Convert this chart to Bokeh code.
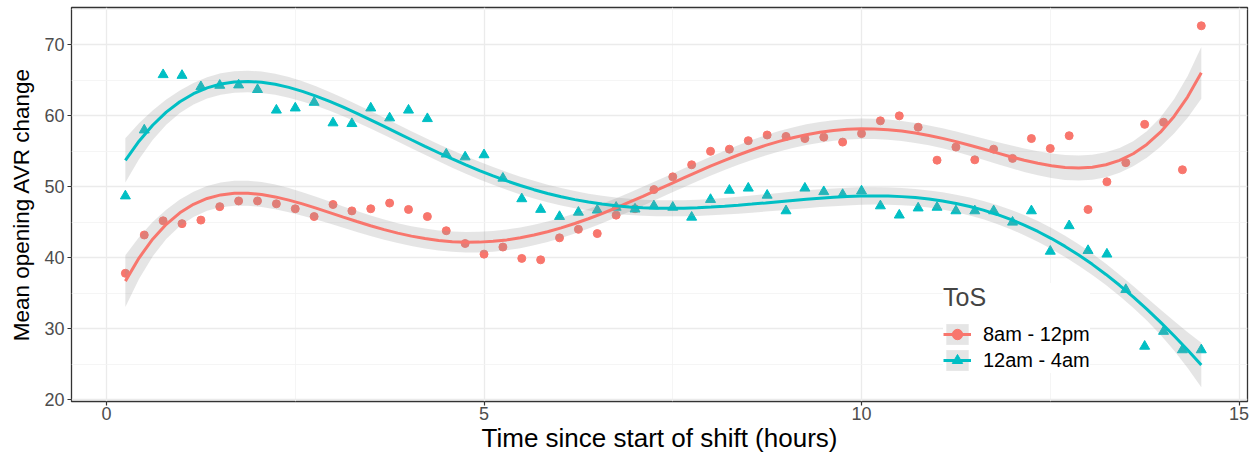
import numpy as np
from bokeh.plotting import figure
from bokeh.models import ColumnDataSource, FixedTicker, Legend, LegendItem, Range1d
from bokeh.embed import file_html
from bokeh.resources import INLINE

# ---- data ----
hours = [0.25, 0.5, 0.75, 1.0, 1.25, 1.5, 1.75, 2.0, 2.25, 2.5, 2.75, 3.0,
         3.25, 3.5, 3.75, 4.0, 4.25, 4.5, 4.75, 5.0, 5.25, 5.5, 5.75, 6.0,
         6.25, 6.5, 6.75, 7.0, 7.25, 7.5, 7.75, 8.0, 8.25, 8.5, 8.75, 9.0,
         9.25, 9.5, 9.75, 10.0, 10.25, 10.5, 10.75, 11.0, 11.25, 11.5, 11.75,
         12.0, 12.25, 12.5, 12.75, 13.0, 13.25, 13.5, 13.75, 14.0, 14.25, 14.5]

avr_8am_12pm = [37.8, 43.2, 45.2, 44.8, 45.3, 47.2, 48.0, 48.0, 47.6, 46.9, 45.8, 47.5,
                46.6, 46.9, 47.7, 46.8, 45.8, 43.8, 42.0, 40.5, 41.5, 39.9, 39.7, 42.8,
                44.0, 43.4, 46.0, 46.9, 49.6, 51.4, 53.1, 55.0, 55.3, 56.5, 57.3, 57.1,
                56.8, 57.0, 56.3, 57.5, 59.3, 60.0, 58.4, 53.75, 55.6, 53.8, 55.3,
                54.0, 56.8, 55.4, 57.2, 46.8, 50.7, 53.4, 58.8, 59.1, 52.4, 72.7]

avr_12am_4am = [48.7, 58.0, 65.8, 65.7, 64.1, 64.3, 64.35, 63.7, 60.8, 61.1, 61.9, 59.0,
                58.9, 61.1, 59.7, 60.8, 59.6, 54.6, 54.2, 54.5, 51.2, 48.3, 46.8, 45.8,
                46.4, 46.7, 47.1, 46.85, 47.3, 47.1, 45.7, 48.2, 49.5, 49.8, 48.8, 46.6,
                49.8, 49.3, 48.9, 49.4, 47.3, 46.0, 47.0, 47.1, 46.6, 46.6, 46.6,
                45.0, 46.6, 40.9, 44.5, 41.0, 40.5, 35.5, 27.5, 29.6, 27.0, 27.0]

group_labels = ["8am - 12pm", "12am - 4am"]
group_colors = ["#F8766D", "#00BFC4"]
group_markers = ["circle", "triangle"]
x_ticks = [0, 5, 10, 15]
y_ticks = [20, 30, 40, 50, 60, 70]


def poly_smooth(x, y, degree=5, n=80, tcrit=2.0066):
    """Least-squares polynomial smoother with 95% confidence band (like geom_smooth lm)."""
    x = np.asarray(x, float)
    y = np.asarray(y, float)
    mu, sd = x.mean(), x.std()
    X = np.vander((x - mu) / sd, degree + 1)
    beta, *_ = np.linalg.lstsq(X, y, rcond=None)
    resid = y - X @ beta
    sigma2 = resid @ resid / (len(x) - degree - 1)
    cov = sigma2 * np.linalg.inv(X.T @ X)
    xg = np.linspace(x.min(), x.max(), n)
    Xg = np.vander((xg - mu) / sd, degree + 1)
    fit = Xg @ beta
    se = np.sqrt(np.einsum("ij,jk,ik->i", Xg, cov, Xg))
    return xg, fit, fit - tcrit * se, fit + tcrit * se


p = figure(width=1252, height=455, output_backend="svg", toolbar_location=None,
           x_range=Range1d(-0.4636, 15.112), y_range=Range1d(19.72, 75.28),
           min_border_left=71, min_border_right=5, min_border_top=7, min_border_bottom=48)

p.background_fill_color = "white"
p.border_fill_color = "white"
p.outline_line_color = "#333333"
p.outline_line_width = 1.3

# grid
p.xaxis.ticker = FixedTicker(ticks=x_ticks, minor_ticks=[2.5, 7.5, 12.5])
p.yaxis.ticker = FixedTicker(ticks=y_ticks, minor_ticks=[25, 35, 45, 55, 65, 75])
for g in (p.xgrid, p.ygrid):
    g.grid_line_color = "#EBEBEB"
    g.grid_line_width = 1.3
    g.minor_grid_line_color = "#F2F2F2"
    g.minor_grid_line_width = 0.8

for ax in (p.xaxis, p.yaxis):
    ax.axis_line_color = None
    ax.major_tick_line_color = "#333333"
    ax.major_tick_line_width = 1.2
    ax.major_tick_out = 4
    ax.major_tick_in = 0
    ax.minor_tick_line_color = None
    ax.major_label_text_font = "Liberation Sans"
    ax.major_label_text_font_size = "18px"
    ax.major_label_text_color = "#4D4D4D"
    ax.axis_label_text_font = "Liberation Sans"
    ax.axis_label_text_font_style = "normal"
    ax.axis_label_text_color = "black"
    ax.major_label_standoff = 2

p.xaxis.axis_label = "Time since start of shift (hours)"
p.xaxis.axis_label_text_font_size = "26px"
p.xaxis.axis_label_standoff = 0
p.xaxis.major_label_standoff = 1
p.yaxis.axis_label = "Mean opening AVR change"
p.yaxis.axis_label_text_font_size = "22.5px"
p.yaxis.axis_label_standoff = 7
p.yaxis.major_label_standoff = 3

series = [avr_8am_12pm, avr_12am_4am]
items = []
point_rs = []
smooth = []
for vals, col, mk in zip(series, group_colors, group_markers):
    src = ColumnDataSource(dict(x=hours, y=vals))
    size = 8 if mk == "circle" else 10
    point_rs.append(p.scatter("x", "y", source=src, marker=mk, size=size,
                              fill_color=col, line_color=col))
for vals, col in zip(series, group_colors):
    xg, fit, lo, hi = poly_smooth(hours, vals)
    s = ColumnDataSource(dict(x=xg, fit=fit, lo=lo, hi=hi))
    band = p.varea(x="x", y1="lo", y2="hi", source=s, fill_color="#999999", fill_alpha=0.25)
    smooth.append((s, band))
line_rs = []
for (s, band), col in zip(smooth, group_colors):
    line_rs.append(p.line("x", "fit", source=s, line_color=col, line_width=3))

for lab, (s, band), ln, pt in zip(group_labels, smooth, line_rs, point_rs):
    items.append(LegendItem(label=lab, renderers=[band, ln, pt]))

legend = Legend(items=items, location=(872, 28), title="ToS",
                title_text_font="Liberation Sans", title_text_font_size="25px",
                title_text_font_style="normal", title_standoff=9,
                label_text_font="Liberation Sans", label_text_font_size="20px",
                label_text_color="black",
                glyph_width=28, glyph_height=26, spacing=0, padding=5,
                label_standoff=12, margin=0,
                background_fill_color="white", background_fill_alpha=1.0,
                border_line_color=None)
p.add_layout(legend, "center")

open("out.html", "w").write(file_html(p, INLINE))
